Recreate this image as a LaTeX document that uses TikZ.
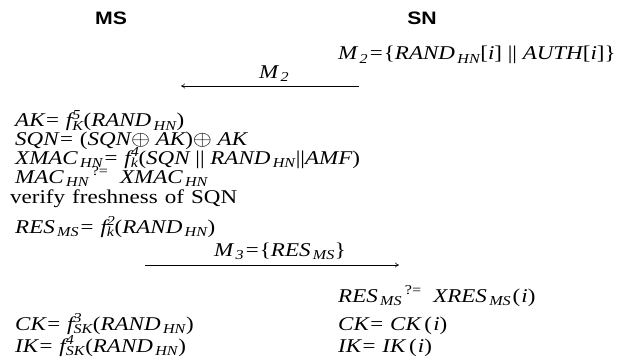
\documentclass[tikz,border=0pt]{standalone}
\usepackage{fontspec}
\setmainfont{Liberation Serif}
\newfontfamily\hdfont{Liberation Sans}
\usetikzlibrary{arrows.meta}
\newcommand\sbx[1]{\textsubscript{\kern2pt #1}}
\newcommand\fss[2]{f\rlap{\textsuperscript{#1}}\textsubscript{#2}}
\newcommand\qeq{\textsuperscript{\,\upshape ?=}}
\newcommand\vst[1]{\scalebox{1.18}[1]{#1}}
\begin{document}
\begin{tikzpicture}[x=1pt,y=-1pt,
  eq/.style={anchor=base west,inner sep=0pt,font=\fontsize{19.5}{19.5}\selectfont\itshape},
  plain/.style={anchor=base west,inner sep=0pt,font=\fontsize{19.5}{19.5}\selectfont},
  hd/.style={anchor=base,inner sep=0pt,font=\fontsize{18}{18}\selectfont\hdfont\bfseries},
  msg/.style={line width=0.6pt,-{To[length=4pt,width=5pt]}}]
\useasboundingbox (0,0) rectangle (619,361);
\node[hd] (ms) at (111,25) {\vst{MS}};
\node[hd] (sn) at (422,25) {\vst{SN}};
\node[eq] (m2def) at (338,60) {\vst{M\sbx{2}={\upshape\{}RAND\sbx{HN}{\upshape[}i{\upshape]} {\upshape||} AUTH{\upshape[}i{\upshape]\}}}};
\coordinate (a1s) at (359,86);
\coordinate (a1e) at (181,86);
\draw[msg] (a1s) -- (a1e);
\node[eq] (m2lbl) at (259,78) {\vst{M\sbx{2}}};
\node[eq] (ak) at (15,127) {\vst{AK= \fss{5}{K}{\upshape(}RAND\sbx{HN}{\upshape)}}};
\node[eq] (sqn) at (15,145) {\vst{SQN= {\upshape(}SQN$\oplus$ AK{\upshape)}$\oplus$ AK}};
\node[eq] (xmac) at (15,164) {\vst{XMAC\sbx{HN}= \fss{4}{k}{\upshape(}SQN {\upshape||} RAND\sbx{HN}{\upshape||}AMF{\upshape)}}};
\node[eq] (mac) at (15,183) {\vst{MAC\sbx{HN}\qeq\ \ XMAC\sbx{HN}}};
\node[plain] (fresh) at (10,203) {\vst{\spaceskip=6pt\relax verify freshness of SQN}};
\node[eq] (res) at (15,233) {\vst{RES\sbx{MS}= \fss{2}{k}{\upshape(}RAND\sbx{HN}{\upshape)}}};
\node[eq] (m3lbl) at (214,256) {\vst{M\sbx{3}={\upshape\{}RES\sbx{MS}{\upshape\}}}};
\coordinate (a2s) at (145,265);
\coordinate (a2e) at (399,265);
\draw[msg] (a2s) -- (a2e);
\node[eq] (xres) at (338,302) {\vst{RES\sbx{MS}\qeq\ \ XRES\sbx{MS}\kern1pt{\upshape(}\kern1pt i{\upshape)}}};
\node[eq] (ck) at (15,330) {\vst{CK= \fss{3}{SK}{\upshape(}RAND\sbx{HN}{\upshape)}}};
\node[eq] (ik) at (15,352) {\vst{IK= \fss{4}{SK}{\upshape(}RAND\sbx{HN}{\upshape)}}};
\node[eq] (cki) at (338,330) {\vst{CK= CK\kern3pt{\upshape(}\kern1pt i{\upshape)}}};
\node[eq] (iki) at (338,352) {\vst{IK= IK\kern3pt{\upshape(}\kern1pt i{\upshape)}}};
\end{tikzpicture}
\end{document}
